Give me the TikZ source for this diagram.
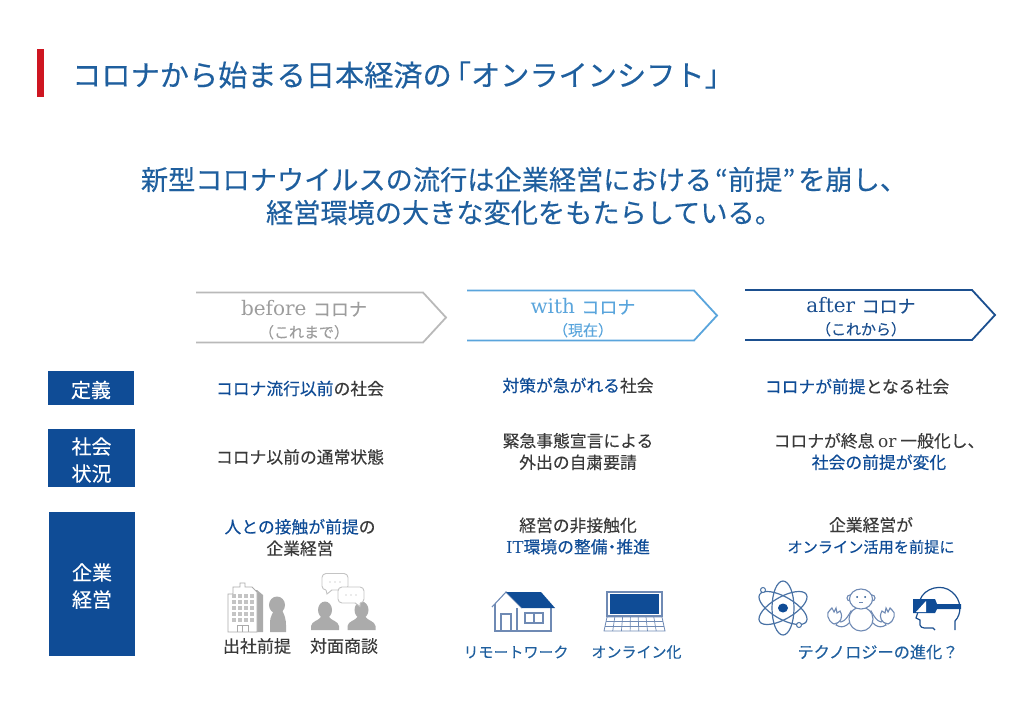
\documentclass[tikz,border=0pt]{standalone}
\usepackage{fontspec}
\newfontfamily\jp{Noto Sans CJK JP}[FakeBold=0.25]
\newfontfamily\lat{DejaVu Serif}
\usetikzlibrary{positioning}
\definecolor{navy}{HTML}{0F4C96}
\definecolor{titleblue}{HTML}{1F5F9E}
\definecolor{skyblue}{HTML}{5AA5DC}
\definecolor{darkline}{HTML}{1B4F8F}
\definecolor{softgray}{HTML}{B9B9B9}
\definecolor{icongray}{HTML}{ABABAB}
\definecolor{ink}{HTML}{3A3A3A}
\definecolor{iconline}{HTML}{6F8AB4}
\definecolor{markred}{HTML}{CE1621}
\newcommand{\hl}[1]{\textcolor{navy}{#1}}
\newcommand{\kana}{\jp\fontsize{18}{21}\selectfont}
\begin{document}
\begin{tikzpicture}[
        x=1pt, y=-1pt,
        font=\jp,
        tagbox/.style={fill=navy, inner sep=0pt},
        tagtext/.style={text=white, font=\jp\fontsize{20}{27}\selectfont, align=center, inner sep=0pt},
        body/.style={text=ink, font=\jp\fontsize{16.8}{21.5}\selectfont, align=center, inner sep=0pt},
        headline/.style={text=titleblue, font=\jp\fontsize{27.2}{33}\selectfont, align=center, inner sep=0pt},
        phase/.style={font=\lat\fontsize{20}{24}\selectfont, align=center, inner sep=0pt},
        chevron/.style={line width=1.8pt},
        capt/.style={font=\jp\fontsize{17}{20}\selectfont, inner sep=0pt},
        captblue/.style={text=titleblue, font=\jp\fontsize{15}{20}\selectfont, inner sep=0pt},
        thinblue/.style={draw=iconline, line width=1.1pt},
        person/.pic={
            \fill[icongray] (0,-9) ellipse (7 and 8.5);
            \fill[icongray] (-14,11) -- (-14,7) .. controls (-13,2) and (-7,2) .. (-4,-2) -- (4,-2) .. controls (7,2) and (13,2) .. (14,7) -- (14,11) -- cycle;
        }
    ]
    \useasboundingbox (0,0) rectangle (1030,722);

    % --- Title ---
    \fill[fill=markred] (37,49) rectangle (44,97);
    \node[headline, anchor=west, font=\jp\fontsize{29.2}{32}\selectfont] (title) at (72,75) {コロナから始まる日本経済の\kern-10pt「オンラインシフト」};
    \node[headline] (lead) at (524,196) {新型コロナウイルスの流行は企業経営における\kern3pt“前提”\kern3pt を崩し、\\経営環境の大きな変化をもたらしている。};

    % --- Chevrons ---
    \draw[chevron, softgray] (196,292.5) -- (423,292.5) -- (446,317.5) -- (423,342.5) -- (196,342.5);
    \draw[chevron, skyblue] (467,290.5) -- (694,290.5) -- (717,315.5) -- (694,340.5) -- (467,340.5);
    \draw[chevron, darkline] (745,290) -- (972,290) -- (995,315) -- (972,340) -- (745,340);
    \node[phase, text=softgray!85!black] (before) at (304,320) {before {\kana コロナ}\\[-2pt]{\jp\fontsize{15}{18}\selectfont （これまで）}};
    \node[phase, text=skyblue] (with) at (583,318) {with {\kana コロナ}\\[-2pt]{\jp\fontsize{15}{18}\selectfont （現在）}};
    \node[phase, text=darkline] (after) at (861,317) {after {\kana コロナ}\\[-2pt]{\jp\fontsize{15}{18}\selectfont （これから）}};

    % --- Row labels ---
    \node[tagbox, minimum width=86pt, minimum height=34pt] (teigi) at (91,388) {};
    \node[tagbox, minimum width=87pt, minimum height=58pt] (shakai) at (91.5,458) {};
    \node[tagbox, minimum width=86pt, minimum height=144pt] (kigyo) at (92,584) {};
    \node[tagtext, yshift=-2pt] (teigitext) at (teigi) {定義};
    \node[tagtext, yshift=-2pt] (shakaitext) at (shakai) {社会\\状況};
    \node[tagtext, yshift=-2pt] (kigyotext) at (kigyo) {企業\\経営};

    % --- Row 1 ---
    \node[body] (r1a) at (300,388.5) {\hl{コロナ流行以前}の社会};
    \node[body] (r1b) at (578,385.5) {\hl{対策が急がれる}社会};
    \node[body] (r1c) at (857,386.5) {\hl{コロナが前提}となる社会};

    % --- Row 2 ---
    \node[body] (r2a) at (300,457) {コロナ以前の通常状態};
    \node[body] (r2b) at (578,451.5) {緊急事態宣言による\\外出の自粛要請};
    \node[body] (r2c) at (879,451.5) {コロナが終息 {\lat\fontsize{17}{21}\selectfont or} 一般化し、\\\hl{社会の前提が変化}};

    % --- Row 3 ---
    \node[body] (r3a) at (300,537.5) {\hl{人との接触が前提}の\\企業経営};
    \node[body] (r3b) at (578,536) {経営の非接触化\\\hl{{\lat\fontsize{16.5}{21}\selectfont IT}環境の整備\kern-4pt・\kern-4pt 推進}};
    \node[body] (r3c) at (871,535.5) {企業経営が\\\hl{\fontsize{15.2}{21}\selectfont オンライン活用を前提に}};

    % --- Captions ---
    \node[capt, text=ink] (c1) at (257,646) {出社前提};
    \node[capt, text=ink] (c2) at (344,646) {対面商談};
    \node[captblue] (c3) at (516,652) {リモートワーク};
    \node[captblue] (c4) at (636.5,652) {オンライン化};
    \node[captblue, font=\jp\fontsize{16.2}{20}\selectfont] (c5) at (878,652) {テクノロジーの進化？};

    % --- Building icon ---
    \fill[icongray] (257,590) -- (263,595) -- (263,632) -- (250,632) -- (250,590) -- cycle;
    \draw[fill=white, draw=icongray, line width=0.8pt] (228,632) -- (228,594) -- (233,594) -- (233,587) -- (240,587) -- (240,583) -- (245,583) -- (245,587) -- (252,587) -- (257,592) -- (257,632) -- cycle;
    \foreach \i in {0,1,2,3} \foreach \j in {0,1,2,3,4} {
        \fill[icongray!70] (232+\i*6,594+\j*6) rectangle ++(4,4);
    }
    \draw[icongray, line width=0.7pt] (237,632) -- (237,625) -- (248,625) -- (248,632) (242.5,625) -- (242.5,632);
    \fill[icongray] (277,605) ellipse (8 and 8.5);
    \fill[icongray] (269,605) -- (272,601) -- (272,609) -- cycle;
    \fill[icongray] (270,632) -- (270,622) .. controls (270,617) and (273,613) .. (274,610) -- (282,610) .. controls (285,616) and (286,620) .. (286,625) -- (286,632) -- cycle;

    % --- Meeting icon ---
    \pic at (325,619) {person};
    \pic at (361.5,619) {person};
    \draw[fill=white, draw=icongray!70, line width=0.9pt, rounded corners=4pt] (322,573.5) rectangle (348,590);
    \draw[draw=none, fill=white] (326,589) -- (327,593.5) -- (332,589) -- cycle;
    \draw[icongray!70, line width=0.9pt] (326,590) -- (327,594) -- (332,590);
    \draw[fill=white, draw=icongray!70, line width=0.9pt, rounded corners=4pt] (338,587) rectangle (364,603);
    \draw[draw=none, fill=white] (355,602) -- (360,606) -- (360,602) -- cycle;
    \draw[icongray!70, line width=0.9pt] (355,603) -- (360,606.5) -- (360,603);
    \foreach \i in {-1,0,1} {
        \fill[icongray] (335+\i*5,582) circle (0.7);
        \fill[icongray] (351+\i*5,595) circle (0.7);
    }

    % --- House icon ---
    \draw[thinblue] (492,607) -- (506,592) -- (522,608);
    \draw[thinblue] (495,604) -- (495,631) -- (551,631) -- (551,608) (517,608) -- (517,631);
    \draw[thinblue] (501,631) -- (501,614) -- (511,614) -- (511,631);
    \draw[thinblue] (525,613) rectangle (543,623) (534,613) -- (534,623);
    \fill[navy] (506,592) -- (541,592) -- (555,608) -- (522,608) -- cycle;

    % --- Laptop icon ---
    \draw[thinblue, fill=white] (607,592) rectangle (662,616);
    \fill[navy] (610,594) rectangle (659,614);
    \draw[thinblue, line width=0.8pt] (607,617) -- (662,617) -- (665,631) -- (604,631) -- cycle;
    \draw[thinblue, line width=0.7pt] (606,621.5) -- (663,621.5) (605,626) -- (664,626);
    \foreach \i in {1,2,3,4,5,6} {
        \draw[thinblue, line width=0.7pt] (607+\i*7.8,617) -- (604+\i*8.7,631);
    }

    % --- Atom icon ---
    \foreach \a in {30,90,150} {
        \draw[draw=darkline!80, line width=1.2pt, rotate around={\a:(783,608)}] (783,608) ellipse (27 and 11);
    }
    \fill[navy] (783,608) ellipse (5 and 4.5);
    \draw[draw=darkline!80, fill=white, line width=1pt] (799,625) circle (2.5);
    \draw[draw=darkline!80, fill=white, line width=1pt] (763,590) circle (2.5);

    % --- Robot icon ---
    \draw[thinblue, fill=white] (838,621) .. controls (842,624) and (846,620) .. (851,611) -- (855,614) .. controls (850,624) and (844,630) .. (836,625) -- cycle;
    \draw[thinblue, fill=white] (884,621) .. controls (880,624) and (876,620) .. (871,611) -- (867,614) .. controls (872,624) and (878,630) .. (886,625) -- cycle;
    \draw[thinblue, fill=white] (861,619) circle (12);
    \draw[thinblue, fill=white] (830,610) .. controls (826,612) and (827,621) .. (834,624) .. controls (840,623) and (844,618) .. (840,611) -- (837,613) -- (836,608) -- (834,612) -- (832,608) -- cycle;
    \draw[thinblue, fill=white] (892,610) .. controls (896,612) and (895,621) .. (888,624) .. controls (882,623) and (878,618) .. (882,611) -- (885,613) -- (886,608) -- (888,612) -- (890,608) -- cycle;
    \draw[thinblue, fill=white] (850,598) circle (3) (872,598) circle (3);
    \draw[thinblue, fill=white] (861,599) ellipse (11.5 and 10);
    \fill[darkline] (857,597) circle (1) (865,597) circle (1);
    \draw[thinblue, line width=0.7pt] (859,602) -- (863,602);

    % --- VR head icon ---
    \draw[darkline, line width=1.2pt] (920,600) .. controls (924,588) and (942,583) .. (952,592) .. controls (962,600) and (962,614) .. (955,621) -- (955,630);
    \draw[darkline, line width=1.2pt] (918,612) -- (916,618) -- (920,620) -- (920,625) .. controls (921,629) and (926,628) .. (933,628) -- (935,630);
    \fill[navy] (913,599) -- (935,599) -- (937,604) -- (961,604) -- (961,609) -- (937,609) -- (935,613) -- (913,613) -- cycle;
    \fill[white] (916,612) -- (926,601) -- (926,612) -- cycle;
\end{tikzpicture}
\end{document}
